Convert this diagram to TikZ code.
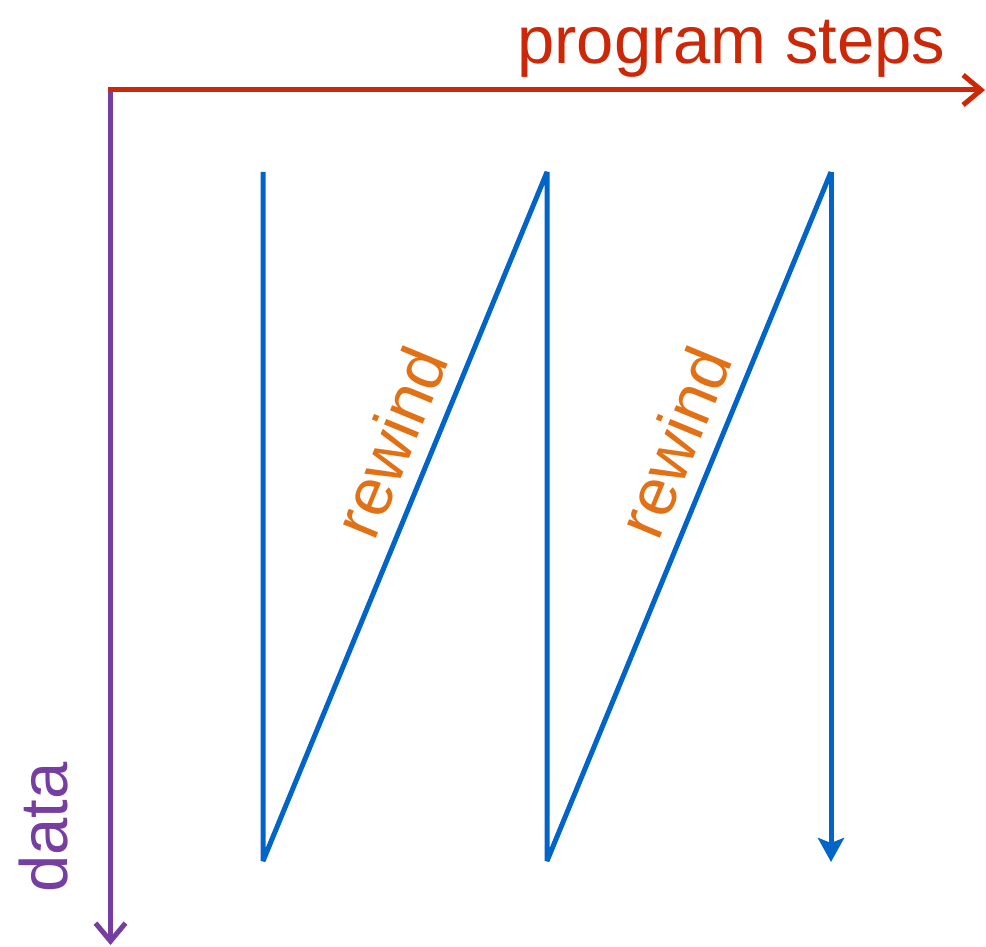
\documentclass[tikz,border=0pt]{standalone}
\usepackage{fontspec}
\setmainfont{Liberation Sans}
\usetikzlibrary{arrows.meta}
\definecolor{axred}{RGB}{204,40,8}
\definecolor{axpurple}{RGB}{117,62,160}
\definecolor{flowblue}{RGB}{0,100,200}
\definecolor{rworange}{RGB}{226,112,20}
\begin{document}
\begin{tikzpicture}[x=1pt,y=-1pt,
  axis/.style={line width=5pt,-{Straight Barb[length=18pt,width=30pt]}},
  flow/.style={line width=5pt,draw=flowblue,line join=bevel},
  bigtext/.style={font=\fontsize{67}{70}\selectfont,inner sep=0pt},
  rw/.style={bigtext,text=rworange,sloped,above=15pt,pos=0.585}]
\useasboundingbox (0,0) rectangle (986,947);
\coordinate (origin) at (110.5,90);
\coordinate (xend) at (985,90);
\coordinate (yend) at (110.5,945);
\coordinate (t1) at (263,172);
\coordinate (b1) at (263,861);
\coordinate (t2) at (547,172);
\coordinate (b2) at (547,861);
\coordinate (t3) at (831,172);
\coordinate (b3) at (831,862);
\draw[axis,draw=axred] ([xshift=-2.5pt]origin) -- (xend);
\draw[axis,draw=axpurple] ([yshift=-2.5pt]origin) -- (yend);
\node[bigtext,text=axred,anchor=base west] (ps) at (517,64) {program steps};
\node[bigtext,text=axpurple,anchor=base west,rotate=90] (dt) at (67,893) {data};
\draw[flow] (t1) -- (b1) -- node[rw] (rw1) {rewind} (t2) -- (b2) -- node[rw] (rw2) {rewind} (t3);
\draw[flow,-{Stealth[length=24pt,width=26pt,inset=5pt]}] (t3) -- (b3);
\end{tikzpicture}
\end{document}
